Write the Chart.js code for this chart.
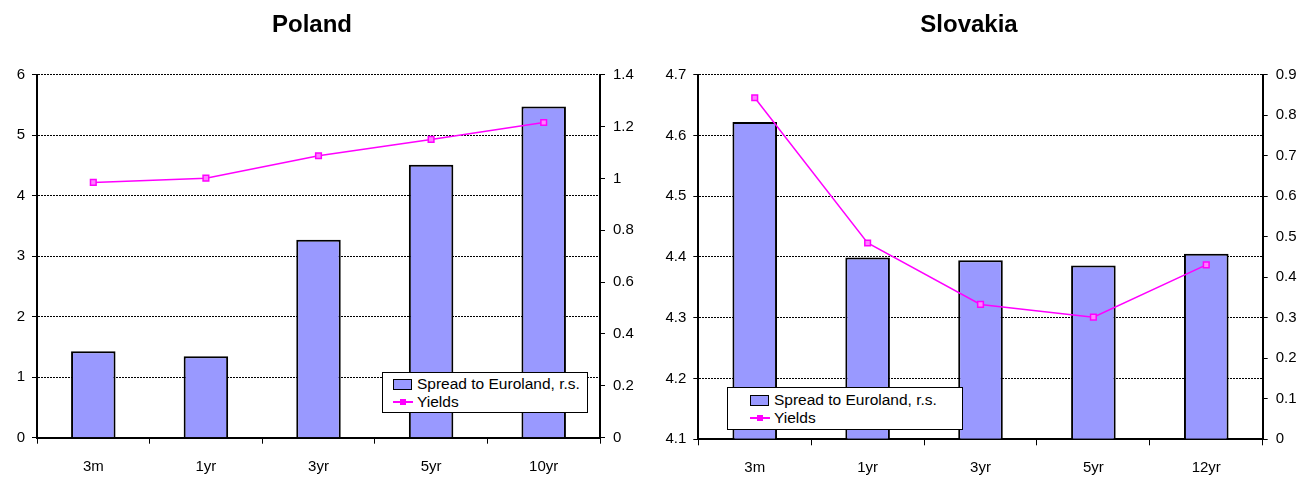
<!DOCTYPE html>
<html>
<head>
<meta charset="utf-8">
<title>Poland / Slovakia yields and spreads</title>
<script src="https://cdn.jsdelivr.net/npm/chart.js@4/dist/chart.umd.min.js"></script>
<style>
  body { margin: 0; background: #fff; width: 1302px; height: 497px; overflow: hidden; position: relative;
         font-family: "Liberation Sans", Arial, sans-serif; }
  .panel { position: absolute; top: 0; height: 497px; }
  .legend { position: absolute; background: #fff; border: 1.5px solid #000; box-sizing: border-box;
            font-size: 15.5px; color: #000; padding-top: 2px; }
  .legend .row { display: flex; align-items: center; height: 18px; white-space: nowrap; }
  .legend .box { width: 19px; height: 11px; background: #9999ff; border: 1.5px solid #000; box-sizing: border-box; margin-right: 5px; }
  .legend .ln { width: 20px; height: 8px; position: relative; margin-right: 4px; }
  .legend .ln::before { content: ""; position: absolute; left: 0; right: 0; top: 3.25px; height: 1.5px; background: #ff00ff; }
  .legend .ln::after { content: ""; position: absolute; left: 7px; top: 1px; width: 6px; height: 6px; background: #ff00ff; }
</style>
</head>
<body>
<!-- canvases are offset so that each title centres where the original one does -->
<div class="panel" style="left:-27px;width:678px"><canvas id="poland" width="678" height="497"></canvas></div>
<div class="panel" style="left:636px;width:666px"><canvas id="slovakia" width="666" height="497"></canvas></div>
<div class="legend" id="legendPL" style="left:382px;top:372px;width:206px;height:41px;padding-left:10px"></div>
<div class="legend" id="legendSK" style="left:727px;top:387px;width:236px;height:43px;padding-left:22px;padding-top:3px"></div>

<script>
// Poland
const categoriesPL = ['3m', '1yr', '3yr', '5yr', '10yr'];
const spreadPL = [0.333, 0.314, 0.763, 1.053, 1.277];   // right scale
const yieldsPL = [4.22, 4.29, 4.66, 4.93, 5.21];         // left scale
const leftTicksPL = { min: 0, max: 6, step: 1 };
const rightTicksPL = { min: 0, max: 1.4, step: 0.2 };

// Slovakia
const categoriesSK = ['3m', '1yr', '3yr', '5yr', '12yr'];
const spreadSK = [0.783, 0.449, 0.442, 0.429, 0.458];
const yieldsSK = [4.662, 4.423, 4.322, 4.301, 4.387];
const leftTicksSK = { min: 4.1, max: 4.7, step: 0.1 };
const rightTicksSK = { min: 0, max: 0.9, step: 0.1 };

const FONT = '"Liberation Sans", Arial, sans-serif';
const tickFont = { family: FONT, size: 15 };
const numFmt = { minimumFractionDigits: 0, maximumFractionDigits: 2 };

function buildChart(id, title, cats, spread, yields, lt, rt, geo) {
  return new Chart(document.getElementById(id), {
    type: 'bar',
    data: {
      labels: cats,
      datasets: [
        { type: 'bar', label: 'Spread to Euroland, r.s.', data: spread, yAxisID: 'yR',
          backgroundColor: '#9999ff', borderColor: '#000', borderWidth: 2,
          barPercentage: 0.395, categoryPercentage: 1, order: 1 },
        { type: 'line', label: 'Yields', data: yields, yAxisID: 'yL',
          borderColor: '#ff00ff', borderWidth: 1.5, tension: 0,
          pointStyle: 'rect', pointRadius: 4, pointBackgroundColor: '#ff80ff',
          pointBorderColor: '#ff00ff', pointBorderWidth: 1.5, order: 0 },
      ],
    },
    options: {
      responsive: false, animation: false,
      layout: { padding: 0 },
      plugins: {
        legend: { display: false },
        tooltip: { enabled: false },
        title: { display: true, text: title, color: '#000',
          font: { family: FONT, size: 24, weight: 'bold' }, padding: { top: 11, bottom: 34.9 } },
      },
      scales: {
        x: {
          offset: true,
          grid: { offset: true, drawOnChartArea: false, color: '#000', lineWidth: 1, tickLength: 6 },
          border: { color: '#000', width: 2 },
          ticks: { color: '#000', font: tickFont, padding: 14, maxRotation: 0 },
          afterFit: (s) => { s.height = geo.xH; },
        },
        yL: {
          type: 'linear', position: 'left', min: lt.min, max: lt.max,
          ticks: { stepSize: lt.step, color: '#000', font: tickFont, padding: 7, format: numFmt },
          grid: { color: '#000', lineWidth: 1, tickLength: 5, tickBorderDash: [] },
          border: { color: '#000', width: 2, dash: [2, 1] },
          afterFit: (s) => { s.width = geo.leftW; },
        },
        yR: {
          type: 'linear', position: 'right', min: rt.min, max: rt.max,
          ticks: { stepSize: rt.step, color: '#000', font: tickFont, padding: 8, format: numFmt },
          grid: { drawOnChartArea: false, color: '#000', lineWidth: 1, tickLength: 5 },
          border: { color: '#000', width: 2 },
          afterFit: (s) => { s.width = geo.rightW; },
        },
      },
    },
  });
}

function renderLegend(elId, chart) {
  const el = document.getElementById(elId);
  el.innerHTML = chart.data.datasets.map(ds => {
    const sw = ds.type === 'bar' ? '<span class="box"></span>' : '<span class="ln"></span>';
    return `<div class="row">${sw}<span>${ds.label}</span></div>`;
  }).join('');
}

const plChart = buildChart('poland', 'Poland', categoriesPL, spreadPL, yieldsPL, leftTicksPL, rightTicksPL,
  { leftW: 64, rightW: 51, xH: 59.3 });
const skChart = buildChart('slovakia', 'Slovakia', categoriesSK, spreadSK, yieldsSK, leftTicksSK, rightTicksSK,
  { leftW: 62.3, rightW: 39.3, xH: 57.7 });

renderLegend('legendPL', plChart);
renderLegend('legendSK', skChart);
</script>
</body>
</html>
